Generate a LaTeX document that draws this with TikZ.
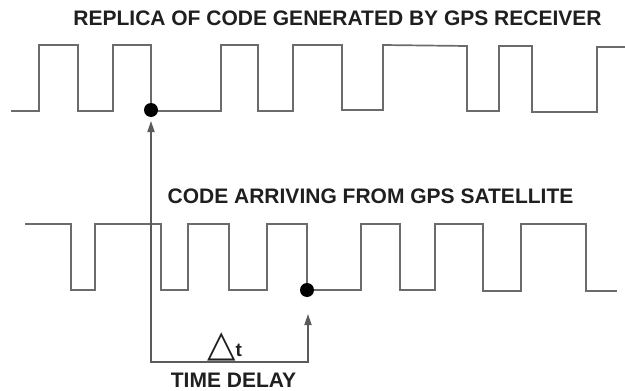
\documentclass[tikz,border=0pt]{standalone}
\usepackage{fontspec}
\setmainfont{Liberation Sans}
\newfontfamily\djv{DejaVu Sans}
\usetikzlibrary{arrows.meta}
\definecolor{wave}{gray}{0.42}
\definecolor{ink}{gray}{0.12}
\tikzset{
  wavepath/.style={draw=wave, line width=1.7pt, line join=miter},
  dotnode/.style={circle, fill=black, inner sep=0pt, minimum size=14pt},
  title/.style={inner sep=0pt, text=ink, font=\fontsize{21pt}{22pt}\selectfont\bfseries},
  delayarrow/.style={draw=wave!85!black, line width=1.7pt,
     {Triangle[length=11pt,width=7pt]}-{Triangle[length=11pt,width=7pt]}},
}
\begin{document}
\begin{tikzpicture}[x=1pt,y=-1pt]
\useasboundingbox (0,0) rectangle (625,391);
% titles
\node[title] (t1) at (337.5,18) {REPLICA OF CODE GENERATED BY GPS RECEIVER};
\node[title] (t2) at (370.5,196.5) {CODE ARRIVING FROM GPS SATELLITE};
\node[title] (t3) at (233.5,380) {TIME DELAY};
% receiver replica code
\draw[wavepath] (11,111) -- (39,111) -- (39,45) -- (78,45) -- (78,111) -- (113,111)
  -- (113,45) -- (151,45) -- (151,111) -- (221,111) -- (221,45) -- (258,45)
  -- (258,111) -- (293,111) -- (293,45) -- (342,45) -- (342,110) -- (383,110)
  -- (383,45) -- (467,46) -- (467,111) -- (499,111) -- (499,46) -- (532,46)
  -- (532,112) -- (597,112) -- (597,47) -- (625,47);
% satellite code
\draw[wavepath] (25,224) -- (71,224) -- (71,290) -- (95,290) -- (95,224) -- (161,224)
  -- (161,290) -- (188,290) -- (188,224) -- (229,224) -- (229,290) -- (267,290)
  -- (267,224) -- (307,224) -- (307,290) -- (361,290) -- (361,224) -- (400,224)
  -- (400,290) -- (435,290) -- (435,224) -- (483,224) -- (483,291) -- (521,291)
  -- (521,224) -- (586,224) -- (586,291) -- (617,291);
% dots
\node[dotnode] (d1) at (151,110) {};
\node[dotnode] (d2) at (307,290) {};
% delay arrows
\coordinate (a1) at (151,121);
\coordinate (b1) at (151,362);
\coordinate (b2) at (308,362);
\coordinate (a2) at (308,314);
\draw[delayarrow] (a1) -- (b1) -- (b2) -- (a2);
% delta t
\node[inner sep=0pt, anchor=base west, text=ink] (dt) at (207,356)
  {{\djv\fontsize{37pt}{37pt}\selectfont △}\kern0pt{\fontsize{19pt}{19pt}\selectfont\bfseries t}};
\end{tikzpicture}
\end{document}
